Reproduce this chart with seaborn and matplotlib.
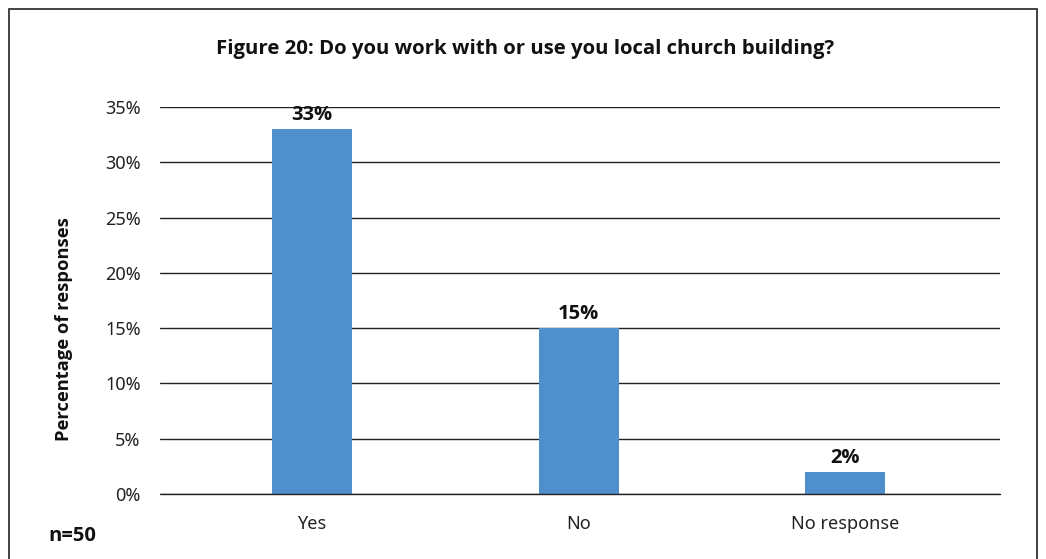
import matplotlib
matplotlib.use("Agg")
import matplotlib.pyplot as plt
import matplotlib.patches as patches
from matplotlib.ticker import PercentFormatter
import pandas as pd
import seaborn as sns

# Data
categories = ["Yes", "No", "No response"]
percentages = [33, 15, 2]
value_labels = ["33%", "15%", "2%"]
y_ticks = [0, 5, 10, 15, 20, 25, 30, 35]

df = pd.DataFrame({"answer": categories, "pct": percentages})

sns.set_style("white")
plt.rcParams["font.family"] = ["Noto Sans", "DejaVu Sans"]
BOLD = ["Open Sans", "DejaVu Sans"]

fig = plt.figure(figsize=(10.46, 5.59), dpi=100)
ax = fig.add_axes([0.153, 0.1163, 0.803, 0.6923])

sns.barplot(data=df, x="answer", y="pct", color="#4F8FCC", width=0.3,
            saturation=1, linewidth=0, ax=ax, zorder=3)

ax.set_ylim(0, 35)
ax.set_xlim(-0.57, 2.58)
ax.set_yticks(y_ticks)
ax.yaxis.set_major_formatter(PercentFormatter(decimals=0))
ax.grid(axis="y", color="#222222", linewidth=1, zorder=0)
ax.set_axisbelow(True)
for s in ax.spines.values():
    s.set_visible(False)
ax.axhline(0, color="#222222", linewidth=1, zorder=4, clip_on=False)
ax.tick_params(axis="both", length=0, labelsize=13, colors="#222222")
ax.tick_params(axis="x", pad=15)
ax.tick_params(axis="y", pad=14)
ax.set_xlabel("")
ax.set_ylabel("Percentage of responses", fontsize=13.2, fontweight="bold",
              family=BOLD, color="#111111")
ax.yaxis.set_label_coords(-0.104, 0.425)

for i, (v, lab) in enumerate(zip(percentages, value_labels)):
    ax.annotate(lab, (i, v), xytext=(0, 3), textcoords="offset points",
                ha="center", va="bottom", fontsize=14.5, fontweight="bold",
                family=BOLD, color="#111111")

fig.text(0.502, 0.913, "Figure 20: Do you work with or use you local church building?",
         ha="center", va="center", fontsize=14.7, fontweight="bold",
         family=BOLD, color="#111111")
fig.text(0.046, 0.041, "n=50", ha="left", va="center", fontsize=14.5,
         fontweight="bold", family=BOLD, color="#111111")

# outer frame around the figure
fig.patches.append(patches.Rectangle((9 / 1046, -0.05), 1028 / 1046, 1.034,
                                     transform=fig.transFigure, fill=False,
                                     edgecolor="#222222", linewidth=1.2))

fig.savefig("out.png", dpi=100)
